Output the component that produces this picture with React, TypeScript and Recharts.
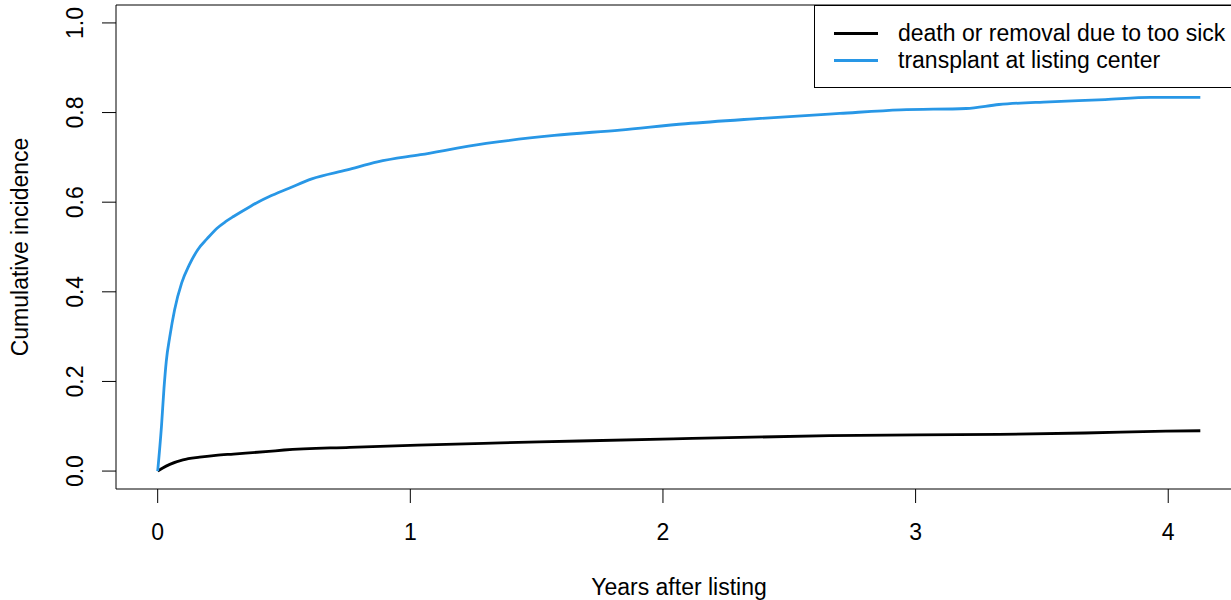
import { Label, Line, LineChart, ReferenceArea, XAxis, YAxis } from "recharts";

const FONT = '"Liberation Sans", Arial, sans-serif';

// cumulative incidence estimates, years after listing
const transplantYears = [
  0, 0.015, 0.025, 0.034, 0.048, 0.067, 0.095, 0.125, 0.16, 0.195, 0.235, 0.27, 0.3, 0.365, 0.4, 0.44, 0.52, 0.61,
  0.75, 0.87, 1.04, 1.3, 1.57, 1.83, 2.09, 2.36, 2.7, 2.94, 3.2, 3.33, 3.53, 3.75, 3.93, 4.127,
];
const transplantIncidence = [
  0, 0.1, 0.185, 0.245, 0.3, 0.36, 0.42, 0.46, 0.495, 0.518, 0.542, 0.557, 0.568, 0.59, 0.601, 0.612, 0.631, 0.652,
  0.672, 0.69, 0.706, 0.731, 0.749, 0.761, 0.775, 0.786, 0.798, 0.806, 0.809, 0.818, 0.824, 0.829, 0.834, 0.834,
];

const deathYears = [0, 0.02, 0.048, 0.1, 0.166, 0.23, 0.3, 0.44, 0.5, 0.76, 1.03, 1.29, 1.51, 2.04, 2.66, 3.33, 3.67, 3.99, 4.127];
const deathIncidence = [
  0, 0.007, 0.015, 0.025, 0.031, 0.035, 0.038, 0.044, 0.047, 0.053, 0.058, 0.062, 0.065, 0.072, 0.079, 0.082, 0.085,
  0.089, 0.09,
];

const xTicks = [0, 1, 2, 3, 4];
const yTicks = [0, 0.2, 0.4, 0.6, 0.8, 1.0];
const xDomain: [number, number] = [-0.165, 4.292];
const yDomain: [number, number] = [-0.04, 1.04];

const series = [
  { key: "death", label: "death or removal due to too sick", color: "#000", data: deathYears.map((t, i) => ({ t, v: deathIncidence[i] })) },
  { key: "transplant", label: "transplant at listing center", color: "#2897e6", data: transplantYears.map((t, i) => ({ t, v: transplantIncidence[i] })) },
];

const XTick = (props: any) => {
  const { x, payload } = props;
  return (
    <text x={x} y={532} textAnchor="middle" dominantBaseline="central" fontSize={23} fontFamily={FONT} fill="#000">
      {payload.value}
    </text>
  );
};

const YTick = (props: any) => {
  const { y, payload } = props;
  return (
    <text
      x={75}
      y={y}
      transform={`rotate(-90, 75, ${y})`}
      textAnchor="middle"
      dominantBaseline="central"
      fontSize={23}
      fontFamily={FONT}
      fill="#000"
    >
      {Number(payload.value).toFixed(1)}
    </text>
  );
};

const YTitle = () => (
  <text
    x={20}
    y={247}
    transform="rotate(-90, 20, 247)"
    textAnchor="middle"
    dominantBaseline="central"
    fontSize={23}
    fontFamily={FONT}
    fill="#000"
  >
    Cumulative incidence
  </text>
);

// legend box in the top-right corner of the plot
const LegendBox = () => (
  <div
    style={{
      position: "absolute",
      left: 814,
      top: 5,
      width: 440,
      height: 83,
      border: "1px solid #000",
      boxSizing: "border-box",
      background: "#fff",
      fontFamily: FONT,
      fontSize: 23,
      color: "#000",
    }}
  >
    {series.map((s, i) => (
      <div
        key={s.key}
        style={{ position: "absolute", left: 19, top: 14 + i * 27, height: 27, display: "flex", alignItems: "center" }}
      >
        <div style={{ width: 44, height: 3, background: s.color }} />
        <span style={{ marginLeft: 20, whiteSpace: "nowrap", lineHeight: "27px" }}>{s.label}</span>
      </div>
    ))}
  </div>
);

export default function App() {
  return (
    <div style={{ position: "fixed", left: 0, top: 0, width: 1231, height: 600, overflow: "hidden", background: "#fff" }}>
      <LineChart width={1280} height={600} margin={{ top: 5, right: 38, left: 0, bottom: 0 }}>
        <XAxis
          type="number"
          dataKey="t"
          domain={xDomain}
          ticks={xTicks}
          allowDataOverflow
          height={111}
          axisLine={false}
          tickLine={{ stroke: "#000" }}
          tickSize={14}
          tick={<XTick />}
          interval={0}
        >
          <Label value="Years after listing" position="insideBottom" offset={5} fontSize={23} fontFamily={FONT} fill="#000" />
        </XAxis>
        <YAxis
          type="number"
          domain={yDomain}
          ticks={yTicks}
          allowDataOverflow
          width={116}
          axisLine={false}
          tickLine={{ stroke: "#000" }}
          tickSize={14}
          tick={<YTick />}
          interval={0}
        >
          <Label content={<YTitle />} />
        </YAxis>
        <ReferenceArea x1={xDomain[0]} x2={xDomain[1]} y1={yDomain[0]} y2={yDomain[1]} fill="none" stroke="#000" strokeWidth={1} ifOverflow="visible" />
        {series.map((s) => (
          <Line
            key={s.key}
            data={s.data}
            dataKey="v"
            name={s.label}
            type="monotone"
            stroke={s.color}
            strokeWidth={2.8}
            dot={false}
            isAnimationActive={false}
          />
        ))}
      </LineChart>
      <LegendBox />
    </div>
  );
}
